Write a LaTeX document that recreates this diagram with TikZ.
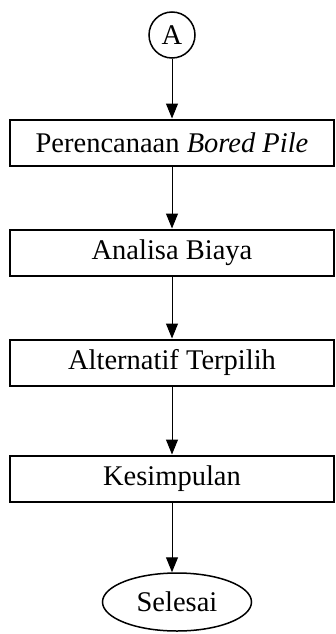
\documentclass[tikz,border=0pt]{standalone}
\usepackage{fontspec}
\setmainfont{Liberation Serif}
\usetikzlibrary{arrows.meta,shapes.geometric}
\begin{document}
\begin{tikzpicture}[x=1pt,y=-1pt,
  every node/.style={font=\fontsize{28.5}{34}\selectfont},
  procbox/.style={draw,line width=2pt,minimum width=324pt,minimum height=46pt,inner sep=0pt},
  conn/.style={draw,line width=1pt,-{Triangle[width=12pt,length=15pt]}},
  startnode/.style={draw,circle,line width=1.5pt,minimum size=46pt,inner sep=0pt},
  endnode/.style={draw,ellipse,line width=1.5pt,minimum width=149pt,minimum height=58pt,inner sep=0pt}]
\useasboundingbox (0,0) rectangle (335,634);
\node[startnode] (a) at (172,35) {A};
\node[procbox] (b1) at (172,142.5) {Perencanaan \textit{Bored Pile}};
\node[procbox] (b2) at (172,252.5) {Analisa Biaya};
\node[procbox] (b3) at (172,362.5) {Alternatif Terpilih};
\node[procbox] (b4) at (172,478.5) {Kesimpulan};
\node[endnode] (e) at (177,602) {Selesai};
\draw[conn] (a.south) -- (b1.north);
\draw[conn] (b1.south) -- (b2.north);
\draw[conn] (b2.south) -- (b3.north);
\draw[conn] (b3.south) -- (b4.north);
\draw[conn] (b4.south) -- (b4.south |- e.north);
\end{tikzpicture}
\end{document}
